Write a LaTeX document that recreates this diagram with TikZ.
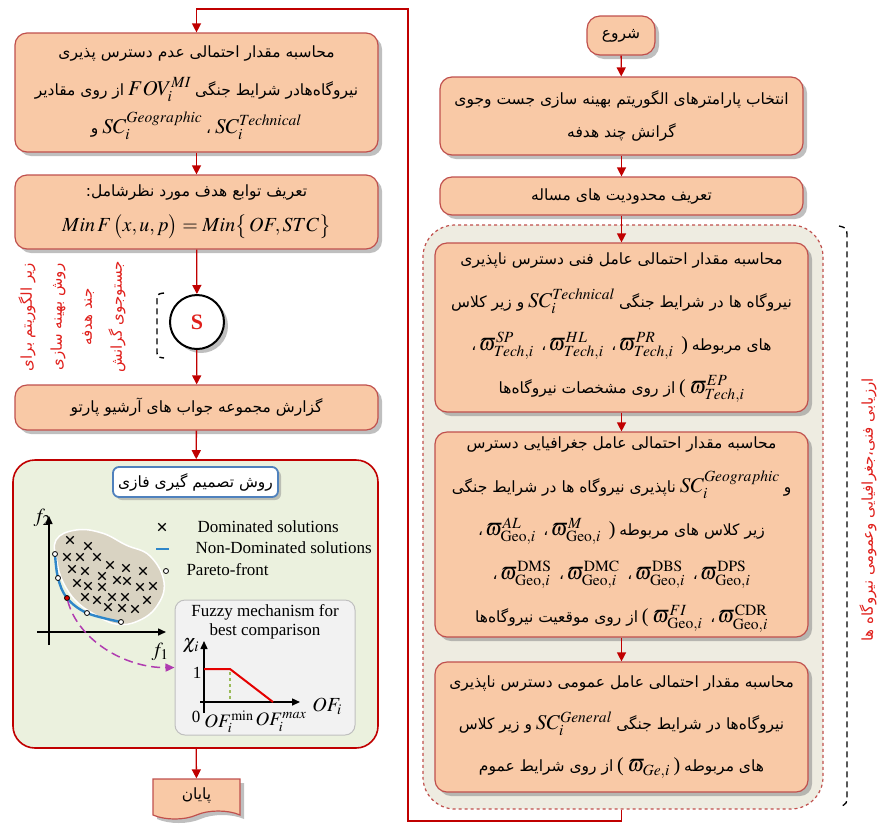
\documentclass[tikz,border=0pt]{standalone}
\usepackage{mathptmx}
\usepackage[no-math]{fontspec}
\setmainfont{Liberation Serif}
\newfontfamily\fafont[Script=Arabic]{DejaVu Sans}
\usetikzlibrary{arrows.meta,shapes.misc,shapes.symbols,shadows}
\TeXXeTstate=1
\newcommand{\fat}[1]{{\fafont\beginR #1\endR}}
\newcommand{\mth}[1]{{\fontsize{21}{21}\selectfont$#1$}}
\newcommand{\prn}[1]{{\fontsize{20}{20}\selectfont #1}}
\newcommand{\fsz}[1]{\fontsize{15.5}{#1}\selectfont}
\definecolor{boxfill}{HTML}{F9C9A6}
\definecolor{boxline}{HTML}{C0504D}
\definecolor{flowred}{HTML}{C00000}
\definecolor{grayzone}{HTML}{EEECE1}
\definecolor{greenzone}{HTML}{EBF1DE}
\definecolor{blobfill}{HTML}{D9D3C2}
\definecolor{paretoblue}{HTML}{2E86C9}
\definecolor{titleblue}{HTML}{4F81BD}
\definecolor{fuzzyfill}{HTML}{F2F2F2}
\definecolor{fuzzyline}{HTML}{BFBFBF}
\definecolor{textred}{HTML}{E0201C}
\definecolor{pathmag}{HTML}{B03CB0}
\definecolor{cutgreen}{HTML}{9BBB59}

\begin{document}
\begin{tikzpicture}[x=1pt, y=-1pt,
  block/.style={draw=boxline, line width=1.2pt, fill=boxfill, rounded corners=12pt, align=center, inner sep=0pt,
    drop shadow={shadow xshift=4pt, shadow yshift=-4pt, fill=black!50}},
  flow/.style={draw=flowred, line width=1.3pt, -{Triangle[width=9pt,length=9pt]}},
  xmark/.style={cross out, draw=black, line width=1.3pt, minimum size=6pt, inner sep=0pt},
  omark/.style={circle, draw=black, fill=white, line width=0.8pt, minimum size=5pt, inner sep=0pt},
  eng/.style={font=\fontsize{17}{19}\selectfont},
  axis/.style={line width=1.5pt, -{Triangle[width=7pt,length=8pt]}}]

  \useasboundingbox (0,0) rectangle (882,831);

  % Left column
  \node[block, minimum width=363pt, minimum height=119pt, font=\fsz{38}] (calcMI) at (196.5,92.5)
    {\fat{محاسبه مقدار احتمالی عدم دسترس پذیری}\\
     \fat{از روی مقادیر}\ \mth{FOV_i^{MI}}\ \fat{نیروگاه‌هادر شرایط جنگی}\\
     \fat{و}\ \mth{SC_i^{Geographic}}\ \fat{،}\ \mth{SC_i^{Technical}}};
  \node[block, minimum width=363pt, minimum height=74pt, font=\fsz{35}] (objfn) at (196.5,212)
    {\fat{تعریف توابع هدف مورد نظرشامل:}\\
     {\fontsize{20}{20}\selectfont$Min\,F\,\big(x,u,p\big)=Min\big\{\,OF,STC\big\}$}};
  \node[circle, draw=black, line width=2pt, fill=white, minimum size=54pt, text=textred,
    font=\bfseries\fontsize{22}{22}\selectfont,
    drop shadow={shadow xshift=4pt, shadow yshift=-4pt, fill=black!50}] (S) at (197,322) {S};
  \node[block, minimum width=363pt, minimum height=45pt, font=\fsz{20}] (archive) at (196.5,407.5)
    {\fat{گزارش مجموعه جواب های آرشیو پارتو}};
  \node[draw=flowred, line width=1.6pt, fill=greenzone, rounded corners=22pt,
    minimum width=365pt, minimum height=288pt] (fuzzyzone) at (195.5,604) {};
  \node[tape, tape bend top=none, tape bend height=8pt, draw=boxline, line width=1.2pt, fill=boxfill,
    minimum width=87pt, minimum height=40pt, font=\fsz{20},
    drop shadow={shadow xshift=4pt, shadow yshift=-4pt, fill=black!50}] (finish) at (196.5,795) {\fat{پایان}};

  % Labels of the sub-algorithm
  \node[rotate=90, text=textred, align=center, font=\fafont\fontsize{15}{30}\selectfont] (subalg) at (72,317)
    {\fat{زیر الگوریتم برای}\\ \fat{روش بهینه سازی}\\ \fat{جند هدفه}\\ \fat{جستوجوی گرانش}};
  \draw[dash pattern=on 6pt off 4pt, line width=1.4pt] (164,293) .. controls (157,294) .. (157,302) -- (157,350) .. controls (157,357) .. (164,358);

  % Fuzzy decision
  \node[draw=titleblue, line width=1.8pt, fill=white, rounded corners=6pt, minimum width=165pt, minimum height=30pt,
    font=\fsz{20}, drop shadow={shadow xshift=3pt, shadow yshift=-3pt, fill=black!45}] (fztitle) at (195.5,482)
    {\fat{روش تصمیم گیری فازی}};
  \draw[draw=white, line width=1.5pt, fill=blobfill] plot[smooth cycle, tension=0.7] coordinates
    {(56,540) (76,530) (102,533) (126,545) (150,556) (164,582) (157,606) (138,621) (116,624) (94,614) (76,601) (63,582) (57,562)};
  \draw[axis] (49,645) -- (49,516);
  \draw[axis] (37,632) -- (166,632);
  \node[font=\fontsize{20}{20}\selectfont] (f2) at (42,518) {$f_2$};
  \node[font=\fontsize{20}{20}\selectfont] (f1) at (160,652) {$f_1$};
  \foreach \cx/\cy [count=\k] in {70/540, 88/546, 67/557, 80/557, 97/557, 110/565, 126/568, 143/571,
      72/569, 85/571, 102/576, 117/580, 127/581, 140/587, 153/586, 77/583, 88/586, 102/587,
      85/597, 97/600, 112/597, 125/597, 147/600, 108/607, 122/608, 135/609}
    \node[xmark] (dom\k) at (\cx,\cy) {};
  \draw[paretoblue, line width=2.4pt] plot[smooth, tension=0.6] coordinates {(55,554) (58,578) (67,598) (87,613) (121,622)};
  \foreach \px/\py [count=\k] in {55/554, 58/578, 87/613, 121/622}
    \node[omark] (pf\k) at (\px,\py) {};
  \node[omark, fill=red!85!black] (redpt) at (67,598) {};

  \node[xmark] (lgx) at (162,527) {};
  \node[eng, anchor=west] (lgdom) at (194,527) {Dominated solutions};
  \draw[paretoblue, line width=2.6pt] (156,549) -- (169,549);
  \node[eng, anchor=west] (lgnon) at (192,548) {Non-Dominated solutions};
  \node[omark] (lgo) at (166,571) {};
  \node[eng, anchor=west] (lgpf) at (183,570) {Pareto-front};

  \node[draw=fuzzyline, line width=1pt, fill=fuzzyfill, rounded corners=10pt,
    minimum width=180pt, minimum height=135pt] (fzbox) at (265,667.5) {};
  \node[eng, align=center] (fztext) at (265,622) {Fuzzy mechanism for\\best comparison};
  \draw[axis] (204,713) -- (204,641);
  \draw[axis] (200,702) -- (300,702);
  \draw[red!90!black, line width=2pt] (204,669) -- (230,669) -- (273,702);
  \draw[cutgreen, dashed, line width=1.3pt] (230,672) -- (230,700);
  \node[font=\fontsize{20}{20}\selectfont] (chi) at (191,646) {$\chi_i$};
  \node[eng] (one) at (197,673) {1};
  \node[eng] (zero) at (196,717) {0};
  \node[font=\fontsize{19}{19}\selectfont] (ofmin) at (229,722) {$OF_i^{\min}$};
  \node[font=\fontsize{19}{19}\selectfont] (ofmax) at (281,722) {$OF_i^{max}$};
  \node[font=\fontsize{20}{20}\selectfont] (ofi) at (327,706) {$OF_i$};
  \draw[pathmag, dash pattern=on 9pt off 5pt, line width=1.5pt, -{Triangle[width=8pt,length=9pt]}]
    (redpt) .. controls (78,640) and (125,668) .. (fzbox.west);

  % Right column
  \node[draw=boxline, line width=1.2pt, fill=boxfill, rounded corners=13pt, minimum width=68pt, minimum height=39pt,
    font=\fsz{20}, drop shadow={shadow xshift=4pt, shadow yshift=-4pt, fill=black!50}] (start) at (621,35.5) {\fat{شروع}};
  \node[block, minimum width=363pt, minimum height=78pt, font=\fsz{33}] (params) at (621.5,116)
    {\fat{انتخاب پارامترهای الگوریتم بهینه سازی جست وجوی}\\ \fat{گرانش چند هدفه}};
  \node[block, minimum width=363pt, minimum height=38pt, font=\fsz{20}] (limits) at (621.5,196)
    {\fat{تعریف محدودیت های مساله}};
  \node[draw=boxline, dashed, line width=1.2pt, fill=grayzone, rounded corners=32pt,
    minimum width=400pt, minimum height=584pt] (evalzone) at (623,517) {};
  \node[block, minimum width=373pt, minimum height=169pt, font=\fsz{43}] (tech) at (621.5,327.5)
    {\fat{محاسبه مقدار احتمالی عامل فنی دسترس ناپذیری}\\
     \fat{و زیر کلاس}\ \mth{SC_i^{Technical}}\ \fat{نیروگاه ها در شرایط جنگی}\\
     \fat{،}\,\mth{\varpi^{SP}_{Tech,i}}\ \ \fat{،}\,\mth{\varpi^{HL}_{Tech,i}}\ \ \fat{،}\,\mth{\varpi^{PR}_{Tech,i}}\ \ \prn{)}\ \fat{های مربوطه}\\
     \fat{از روی مشخصات نیروگاه‌ها}\ \prn{(}\ \mth{\varpi^{EP}_{Tech,i}}};
  \node[block, minimum width=373pt, minimum height=205pt, font=\fsz{43.5}] (geo) at (621.5,534.5)
    {\fat{محاسبه مقدار احتمالی عامل جغرافیایی دسترس}\\
     \fat{ناپذیری نیروگاه ها در شرایط جنگی}\ \mth{SC_i^{Geographic}}\ \fat{و}\\
     \fat{،}\,\mth{\varpi^{AL}_{\mathrm{Geo},i}}\ \ \fat{،}\,\mth{\varpi^{M}_{\mathrm{Geo},i}}\ \ \prn{)}\ \fat{زیر کلاس های مربوطه}\\
     \fat{،}\,\mth{\varpi^{\mathrm{DMS}}_{\mathrm{Geo},i}}\ \ \fat{،}\,\mth{\varpi^{\mathrm{DMC}}_{\mathrm{Geo},i}}\ \ \fat{،}\,\mth{\varpi^{\mathrm{DBS}}_{\mathrm{Geo},i}}\ \ \fat{،}\,\mth{\varpi^{\mathrm{DPS}}_{\mathrm{Geo},i}}\\
     \fat{از روی موقعیت نیروگاه‌ها}\ \prn{(}\ \mth{\varpi^{FI}_{\mathrm{Geo},i}}\ \ \fat{،}\,\mth{\varpi^{\mathrm{CDR}}_{\mathrm{Geo},i}}};
  \node[block, minimum width=373pt, minimum height=130pt, font=\fsz{42}] (general) at (621.5,727)
    {\fat{محاسبه مقدار احتمالی عامل عمومی دسترس ناپذیری}\\
     \fat{و زیر کلاس}\ \mth{SC_i^{General}}\ \fat{نیروگاه‌ها در شرایط جنگی}\\
     \fat{از روی شرایط عموم}\ \prn{(}\ \mth{\varpi_{Ge,i}}\ \prn{)}\ \fat{های مربوطه}};

  % Evaluation label
  \draw[dash pattern=on 6pt off 4pt, line width=1.3pt] (839,226) .. controls (847,228) .. (847,240) -- (847,792) .. controls (847,804) .. (839,807);
  \node[rotate=90, text=textred, font=\fafont\fontsize{15}{18}\selectfont] (evallabel) at (868,510)
    {\fat{ارزیابی فنی،جغرافیایی وعمومی نیروگاه ها}};

  % Vertical arrows
  \draw[flow] (calcMI) -- (objfn);
  \draw[flow] (objfn) -- (S);
  \draw[flow] (S) -- (archive);
  \draw[flow] (archive) -- (fuzzyzone);
  \draw[flow] (fuzzyzone) -- (finish);
  \draw[flow] (start) -- (params);
  \draw[flow] (params) -- (limits);
  \draw[flow] (limits) -- (tech);
  \draw[flow] (tech) -- (geo);
  \draw[flow] (geo) -- (general);

  % Loop back
  \coordinate (loopB) at (408,821);
  \coordinate (loopT) at (408,9);
  \draw[flow] (general.south |- evalzone.south) |- (loopB) -- (loopT) -| (calcMI.north);

\end{tikzpicture}
\end{document}
